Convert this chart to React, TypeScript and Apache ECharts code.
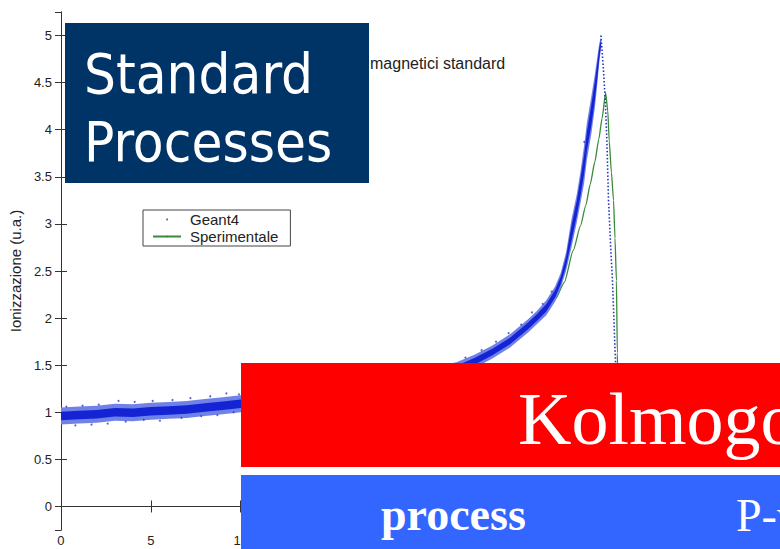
import React, { useEffect, useRef } from 'react';
import * as echarts from 'echarts';

// Geant4 simulation: dense band of points (centre and half-widths)
const bandX = [0, 1, 2, 3, 4, 5, 6, 7, 8, 9, 10, 12, 14, 16, 18, 20, 21, 22, 23, 24, 25, 26, 26.5, 27, 27.5, 27.8, 28.1, 28.4, 28.7, 28.9, 29.1, 29.26, 29.5, 29.7, 29.85, 29.95, 30.05];
const bandCenter = [0.96, 0.97, 0.98, 1.0, 0.995, 1.01, 1.02, 1.03, 1.05, 1.07, 1.09, 1.13, 1.18, 1.23, 1.29, 1.36, 1.4, 1.46, 1.54, 1.64, 1.76, 1.92, 2.01, 2.11, 2.26, 2.4, 2.6, 2.9, 3.17, 3.39, 3.63, 3.88, 4.15, 4.41, 4.65, 4.82, 4.93];
const bandInner = [0.045, 0.045, 0.045, 0.045, 0.045, 0.045, 0.045, 0.045, 0.045, 0.045, 0.045, 0.045, 0.045, 0.045, 0.045, 0.045, 0.045, 0.035, 0.035, 0.035, 0.035, 0.035, 0.035, 0.04, 0.04, 0.04, 0.05, 0.08, 0.08, 0.09, 0.1, 0.1, 0.11, 0.1, 0.08, 0.06, 0.03];
const bandOuter = [0.09, 0.09, 0.09, 0.09, 0.09, 0.09, 0.09, 0.09, 0.09, 0.09, 0.09, 0.09, 0.09, 0.09, 0.09, 0.09, 0.09, 0.07, 0.07, 0.07, 0.07, 0.07, 0.07, 0.08, 0.08, 0.08, 0.1, 0.15, 0.15, 0.17, 0.2, 0.2, 0.2, 0.18, 0.14, 0.1, 0.06];

// Geant4 isolated points (scatter outliers around the band)
const geantX = [0.3, 0.8, 1.2, 1.7, 2.1, 2.6, 3.2, 3.6, 4.1, 4.6, 5.1, 5.5, 6.2, 6.7, 7.2, 7.8, 8.3, 8.7, 9.2, 9.6, 9.9, 22.5, 23.4, 24.2, 24.9, 25.6, 26.2, 26.8, 27.3, 29.11, 29.17];
const geantY = [1.06, 0.86, 1.07, 0.87, 1.08, 0.88, 1.12, 0.9, 1.11, 0.92, 1.12, 0.91, 1.13, 0.94, 1.15, 0.96, 1.17, 0.97, 1.2, 1.0, 1.19, 1.58, 1.66, 1.75, 1.84, 1.93, 2.06, 2.15, 2.28, 3.87, 3.76];

// Geant4 distal fall-off (sparse dotted points)
const fallX = [30.04, 30.17, 30.28, 30.37, 30.46, 30.6, 30.68, 30.83, 30.92, 31.0];
const fallY = [5.0, 4.66, 4.31, 3.88, 3.25, 2.68, 2.4, 1.63, 1.2, 0.7];

// Sperimentale (experimental curve)
const expX = [0, 2, 4, 6, 8, 10, 12, 14, 16, 18, 20, 22, 24, 25, 26, 27, 27.5, 28, 28.5, 28.9, 29.2, 29.44, 29.7, 29.92, 30.1, 30.3, 30.42, 30.5, 30.62, 30.74, 30.82, 30.9, 30.95, 31.0, 31.08];
const expY = [0.96, 0.975, 0.995, 1.02, 1.045, 1.08, 1.12, 1.17, 1.22, 1.28, 1.35, 1.44, 1.62, 1.73, 1.88, 2.06, 2.2, 2.38, 2.72, 2.98, 3.2, 3.42, 3.66, 3.9, 4.12, 4.39, 4.2, 3.88, 3.55, 3.25, 2.85, 2.4, 1.63, 1.1, 0.5];

// x tick labels that are not covered by the overlays
const xLabelMax = 10;

const LABEL_FONT = '"Liberation Sans", Arial, Helvetica, sans-serif';

export default function App() {
  const ref = useRef<HTMLDivElement>(null);

  useEffect(() => {
    if (!ref.current) return;
    const chart = echarts.init(ref.current, null, { renderer: 'svg' });

    const bandRender = (half: number[], color: string) => (_p: any, api: any) => {
      const up = bandX.map((x, i) => api.coord([x, bandCenter[i] + half[i]]));
      const dn = bandX.map((x, i) => api.coord([x, bandCenter[i] - half[i]])).reverse();
      return { type: 'polygon', shape: { points: up.concat(dn) }, style: { fill: color } };
    };

    const axisLine = { show: true, lineStyle: { color: '#333', width: 1 } };
    const axisTick = { show: true, inside: true, length: 6, lineStyle: { color: '#333' } };

    chart.setOption({
      animation: false,
      backgroundColor: '#fff',
      grid: { left: 60, right: 0, top: 12, bottom: 19, containLabel: false },
      xAxis: [
        {
          type: 'value', min: 0, max: 40, interval: 5, position: 'bottom',
          axisLine, axisTick, splitLine: { show: false },
          axisLabel: {
            fontSize: 13, color: '#222', margin: 4, fontFamily: LABEL_FONT, showMaxLabel: false,
            formatter: (v: number) => (v <= xLabelMax ? String(v) : ''),
          },
        },
        {
          type: 'value', min: 0, max: 40, interval: 5, position: 'top',
          axisLine, axisTick, splitLine: { show: false }, axisLabel: { show: false },
        },
      ],
      yAxis: [
        {
          type: 'value', min: -0.25, max: 5.25, splitNumber: 11, position: 'left',
          name: 'Ionizzazione (u.a.)', nameLocation: 'middle', nameGap: 34,
          nameTextStyle: { fontSize: 15, color: '#222', fontFamily: LABEL_FONT },
          axisLine, axisTick, splitLine: { show: false },
          axisLabel: { fontSize: 13, color: '#222', margin: 9, fontFamily: LABEL_FONT, showMinLabel: false, showMaxLabel: false },
        },
        {
          type: 'value', min: -0.25, max: 5.25, splitNumber: 11, position: 'right',
          axisLine, axisTick, splitLine: { show: false }, axisLabel: { show: false },
        },
      ],
      legend: {
        orient: 'vertical', left: 143, top: 210,
        data: [{ name: 'Geant4', icon: 'circle' }, { name: 'Sperimentale' }],
        itemWidth: 28, itemHeight: 2, itemGap: 2,
        padding: [2, 12, 2, 9],
        borderColor: '#444', borderWidth: 1, backgroundColor: '#fff',
        selectedMode: false,
        textStyle: { fontSize: 15, color: '#222', fontFamily: LABEL_FONT, padding: [0, 0, 0, 4] },
      },
      series: [
        {
          name: 'Sperimentale', type: 'line', data: expX.map((x, i) => [x, expY[i]]),
          symbol: 'none', smooth: 0.2, smoothMonotone: 'x',
          lineStyle: { color: '#3a8a3a', width: 1.3 }, itemStyle: { color: '#3a8a3a' }, z: 2,
        },
        {
          name: 'band-outer', type: 'custom', renderItem: bandRender(bandOuter, '#7082e8'),
          data: [[bandX[0], bandCenter[0]]], silent: true, z: 3,
        },
        {
          name: 'band-inner', type: 'custom', renderItem: bandRender(bandInner, '#1424d4'),
          data: [[bandX[0], bandCenter[0]]], silent: true, z: 3,
        },
        {
          name: 'Geant4', type: 'scatter', data: geantX.map((x, i) => [x, geantY[i]]),
          symbol: 'circle', symbolSize: 2, itemStyle: { color: '#2a3bd0' }, z: 4,
        },
        {
          name: 'Geant4-fall', type: 'line', data: fallX.map((x, i) => [x, fallY[i]]),
          symbol: 'none', lineStyle: { color: '#2233bb', width: 1.6, type: [1.5, 2] }, z: 4,
        },
      ],
      graphic: [
        {
          type: 'text', x: 370, y: 63, z: 50,
          style: { text: 'magnetici standard', font: '16px "Liberation Sans", Arial, sans-serif', fill: '#222', verticalAlign: 'middle', textVerticalAlign: 'middle' },
        },
        { type: 'rect', shape: { x: 65, y: 23, width: 304, height: 160 }, style: { fill: '#003366' }, z: 100 },
        {
          type: 'text', x: 84, y: 73, z: 101,
          style: { text: 'Standard', font: '56px "DejaVu Sans Condensed", "DejaVu Sans", sans-serif', fill: '#fff', verticalAlign: 'middle', textVerticalAlign: 'middle' },
        },
        {
          type: 'text', x: 84, y: 141, z: 101,
          style: { text: 'Processes', font: '56px "DejaVu Sans Condensed", "DejaVu Sans", sans-serif', fill: '#fff', verticalAlign: 'middle', textVerticalAlign: 'middle' },
        },
        { type: 'rect', shape: { x: 241, y: 363, width: 539, height: 104 }, style: { fill: '#ff0000' }, z: 100 },
        {
          type: 'text', x: 518, y: 419, z: 101,
          style: { text: 'Kolmogorov-Smirnov test', font: '74px "Liberation Serif", "Times New Roman", serif', fill: '#fff', verticalAlign: 'middle', textVerticalAlign: 'middle' },
        },
        { type: 'rect', shape: { x: 241, y: 475, width: 539, height: 74 }, style: { fill: '#3366ff' }, z: 100 },
        {
          type: 'text', x: 381, y: 514, z: 101,
          style: { text: 'process', font: 'bold 46px "Liberation Serif", "Times New Roman", serif', fill: '#fff', verticalAlign: 'middle', textVerticalAlign: 'middle' },
        },
        {
          type: 'text', x: 736, y: 515, z: 101,
          style: { text: 'P-value', font: '46px "Liberation Serif", "Times New Roman", serif', fill: '#fff', verticalAlign: 'middle', textVerticalAlign: 'middle' },
        },
      ],
    });

    return () => chart.dispose();
  }, []);

  return <div ref={ref} style={{ position: 'absolute', left: 0, top: 0, width: 780, height: 549 }} />;
}
